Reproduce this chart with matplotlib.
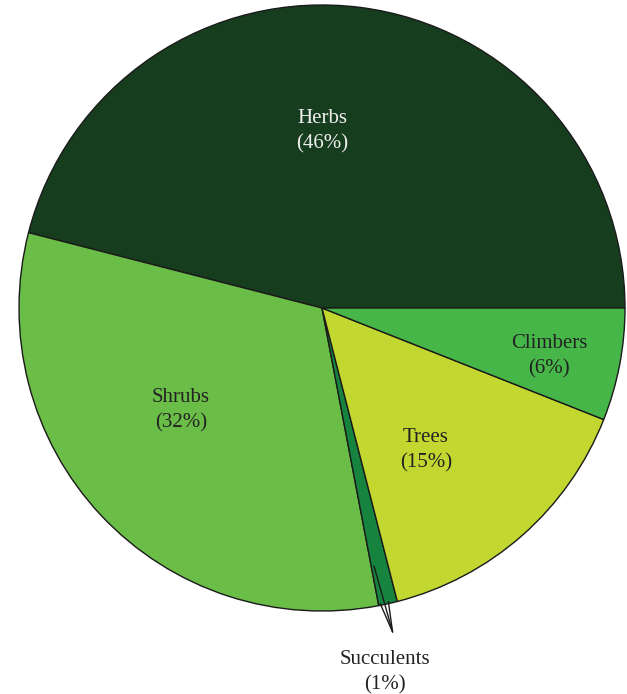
import matplotlib.pyplot as plt

# pie data, counterclockwise from 3 o'clock
categories = ['Herbs', 'Shrubs', 'Succulents', 'Trees', 'Climbers']
percents = [46, 32, 1, 15, 6]
colors = ['#173d1f', '#6abd46', '#16843f', '#c2d72f', '#46b649']

H = 694
fig = plt.figure(figsize=(6.27, 6.94), dpi=100)
ax = fig.add_axes([0, 0, 1, 1])

ax.pie(percents, colors=colors, startangle=0, counterclock=True,
       center=(322, H - 308), radius=303,
       wedgeprops=dict(edgecolor='#1a1a1a', linewidth=1.0))

# pie() resets the limits, so set them afterwards
ax.set_xlim(0, 627)
ax.set_ylim(0, H)
ax.set_aspect('equal')
ax.axis('off')

font = dict(family='Liberation Serif', fontsize=15, ha='center', va='center',
            linespacing=1.45)

# label positions in pixels (x, y from top)
label_pos = {
    'Herbs': (322, 131),
    'Shrubs': (181, 410),
    'Trees': (426, 450),
    'Climbers': (549, 356),
    'Succulents': (385, 672),
}
for name, pct in zip(categories, percents):
    x, y = label_pos[name]
    col = '#f0f0f0' if name == 'Herbs' else '#222222'
    ax.text(x, H - y, f'{name}\n({pct}%)', color=col, **font)

# arrow pointing from the thin succulent wedge to its label
ax.annotate('', xy=(394, H - 637), xytext=(374, H - 566),
            arrowprops=dict(arrowstyle='->,head_length=2.2,head_width=0.3',
                            color='#1a1a1a', lw=1.0, shrinkA=0, shrinkB=0))

plt.savefig('out.png')
